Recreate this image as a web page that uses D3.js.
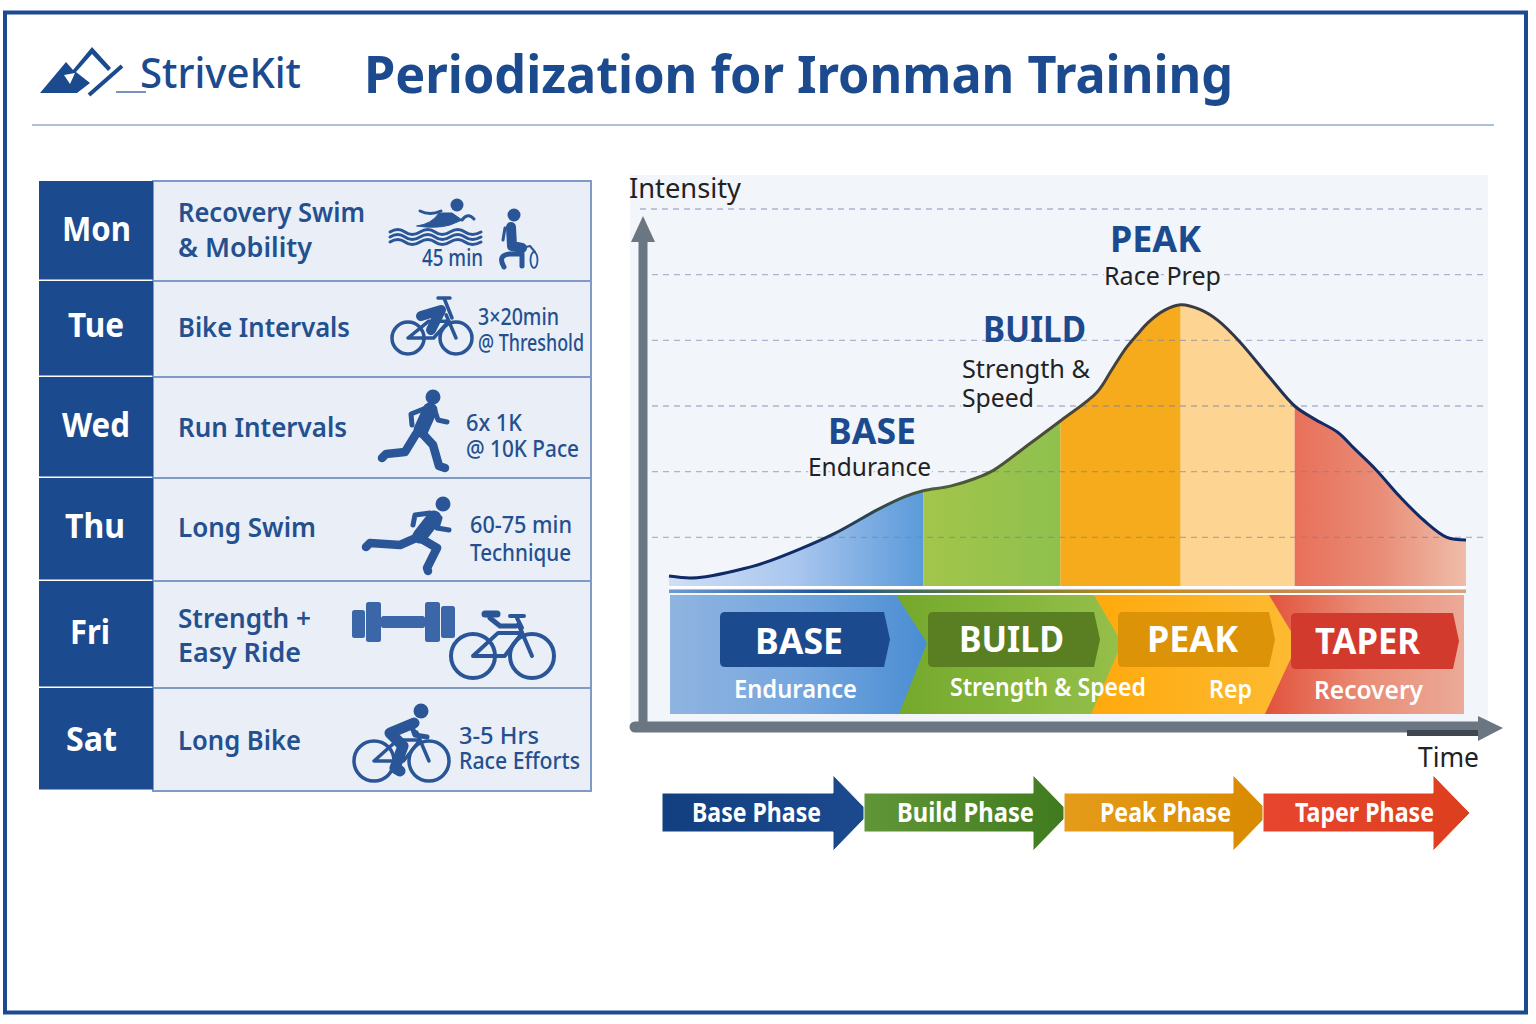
<!DOCTYPE html>
<html>
<head>
<meta charset="utf-8">
<title>Periodization for Ironman Training</title>
<script src="https://cdn.jsdelivr.net/npm/d3@7"></script>
<style>
  html, body { margin: 0; padding: 0; background: #fff; }
  svg { display: block; }
  text { font-family: "Noto Sans", sans-serif; }
</style>
</head>
<body>
<svg id="chart" width="1536" height="1024"></svg>
<script>
// weekly plan
const days = ["Mon", "Tue", "Wed", "Thu", "Fri", "Sat"];
const workouts = [
  ["Recovery Swim", "& Mobility"],
  ["Bike Intervals"],
  ["Run Intervals"],
  ["Long Swim"],
  ["Strength +", "Easy Ride"],
  ["Long Bike"]
];
const details = [
  ["45 min"],
  ["3\u00d720min", "@ Threshold"],
  ["6x 1K", "@ 10K Pace"],
  ["60-75 min", "Technique"],
  [],
  ["3-5 Hrs", "Race Efforts"]
];

// intensity curve, time as % of the season
const curveTime = [0, 2.6, 4.6, 8.3, 11.9, 16.4, 20.8, 26.3, 29.6, 31.9, 35.3, 38.5, 40.7, 45.3, 49.3, 53.7, 55.5, 57.2, 58.7, 60.1, 62.2, 64.2, 66.6, 68.9, 71.6, 75.4, 78.5, 81, 83.9, 86, 88.7, 91.7, 94.7, 97.6, 100];
const curveIntensity = [0.41, 0.38, 0.40, 0.49, 0.61, 0.82, 1.06, 1.43, 1.62, 1.71, 1.78, 1.90, 2.02, 2.43, 2.79, 3.21, 3.54, 3.86, 4.08, 4.27, 4.46, 4.54, 4.47, 4.30, 3.98, 3.43, 3.0, 2.8, 2.6, 2.35, 2.03, 1.62, 1.26, 1.0, 0.96];
const intensityLevels = [1, 2, 3, 4, 5, 6];
const bandEdges = [0, 31.9, 49.1, 64.2, 78.5, 100];
const phaseNames = ["Base Phase", "Build Phase", "Peak Phase", "Taper Phase"];
const pillNames = ["BASE", "BUILD", "PEAK", "TAPER"];
const pillSubs = ["Endurance", "Strength & Speed", "Rep", "Recovery"];

const navy = "#1c4a8e";
const rowText = "#24508f";

const svg = d3.select("#chart");
const defs = svg.append("defs");

const x = d3.scaleLinear().domain([0, 100]).range([669, 1466]);
const y = d3.scaleLinear().domain([0, 6]).range([603, 209]);

function gradient(id, stops, x1, x2) {
  const g = defs.append("linearGradient").attr("id", id);
  if (x1 !== undefined) {
    g.attr("gradientUnits", "userSpaceOnUse").attr("x1", x1).attr("x2", x2).attr("y1", 0).attr("y2", 0);
  }
  stops.forEach((c, i) => {
    g.append("stop").attr("offset", i / (stops.length - 1)).attr("stop-color", c);
  });
}

// text squeezed to the width it has in the picture
function label(parent, str, left, base, size, width, fill, weight, halo) {
  const t = parent.append("text")
    .attr("x", left).attr("y", base)
    .attr("font-size", size).attr("font-weight", weight || 400)
    .attr("fill", fill)
    .attr("textLength", width).attr("lengthAdjust", "spacingAndGlyphs")
    .text(str);
  if (halo) {
    t.attr("stroke", halo).attr("stroke-width", 5).attr("paint-order", "stroke");
  }
  return t;
}

// frame + header
svg.append("rect").attr("width", 1536).attr("height", 1024).attr("fill", "#fff");
svg.append("rect").attr("x", 5).attr("y", 12.5).attr("width", 1521).attr("height", 1000)
  .attr("fill", "none").attr("stroke", navy).attr("stroke-width", 4);
svg.append("line").attr("x1", 32).attr("x2", 1494).attr("y1", 125).attr("y2", 125)
  .attr("stroke", "#93abcd").attr("stroke-width", 1.5);

// logo
const logo = svg.append("g");
logo.append("path").attr("d", "M40 93 L66 62 L73 70 L92 47 L111 68 L108 71 L92 54 L76 72 L90 83 L77 93 Z").attr("fill", navy);
logo.append("path").attr("d", "M89 95 L122 66").attr("stroke", navy).attr("stroke-width", 4);
logo.append("path").attr("d", "M64 75 L75 73 L70 84 Z").attr("fill", "#fff");
logo.append("line").attr("x1", 116).attr("x2", 146).attr("y1", 92).attr("y2", 92).attr("stroke", navy).attr("stroke-width", 1.2);
label(svg, "StriveKit", 140, 88, 41, 161, navy, 500);
label(svg, "Periodization for Ironman Training", 364, 93, 52, 869, navy, 700);

// --- table ---
const rowEdges = [181, 281, 377, 478, 581, 688, 791];
const dayX = [[62, 69], [68, 56], [62, 68], [65, 60], [70, 40], [66, 51]];
const dayBase = [241, 337, 437, 538, 644, 751];
const workoutPos = [
  [[222, 187], [257, 134]],
  [[337, 172]],
  [[437, 169]],
  [[537, 138]],
  [[628, 133], [662, 123]],
  [[750, 123]]
];
const detailPos = [
  [[422, 266, 61]],
  [[478, 325, 81], [478, 351, 106]],
  [[466, 431, 56], [466, 457, 113]],
  [[470, 533, 102], [470, 561, 101]],
  [],
  [[459, 744, 80], [459, 769, 121]]
];
const table = svg.append("g");
days.forEach((day, i) => {
  const top = rowEdges[i], h = rowEdges[i + 1] - top;
  table.append("rect").attr("x", 153).attr("y", top).attr("width", 438).attr("height", h)
    .attr("fill", "#e9eef7").attr("stroke", "#7f9ac7").attr("stroke-width", 2);
  table.append("rect").attr("x", 39).attr("y", top).attr("width", 114).attr("height", h - 1.5)
    .attr("fill", navy);
  label(table, day, dayX[i][0], dayBase[i], 34, dayX[i][1], "#fff", 700);
  workouts[i].forEach((line, j) => {
    label(table, line, 178, workoutPos[i][j][0], 27, workoutPos[i][j][1], rowText, 600);
  });
  details[i].forEach((line, j) => {
    const p = detailPos[i][j];
    label(table, line, p[0], p[1], 23, p[2], rowText, 500);
  });
});

// --- icons ---
const icons = svg.append("g").attr("fill", "none").attr("stroke", "#2a5597")
  .attr("stroke-linecap", "round").attr("stroke-linejoin", "round");

function limb(d, w) {
  icons.append("path").attr("d", d).attr("stroke-width", w);
}
function head(cx, cy, r) {
  icons.append("circle").attr("cx", cx).attr("cy", cy).attr("r", r).attr("fill", "#2a5597").attr("stroke", "none");
}
function bike(lx, rx, cy, r, w) {
  icons.append("circle").attr("cx", lx).attr("cy", cy).attr("r", r).attr("stroke-width", w);
  icons.append("circle").attr("cx", rx).attr("cy", cy).attr("r", r).attr("stroke-width", w);
  const mid = (lx + rx) / 2;
  const top = cy - r * 1.05;
  limb(`M${lx} ${cy} L${mid - r * 0.2} ${top} L${rx - r * 0.45} ${top} L${mid + r * 0.1} ${cy} Z`, w);
  limb(`M${rx} ${cy} L${rx - r * 0.62} ${top - r * 0.4}`, w);
}

// Mon swimmer and mobility figure
head(457, 205, 6.5);
icons.append("path").attr("d", "M417 226 Q432 224 439 213 L452 213 L462 220 L450 225 Q436 229 417 226 Z")
  .attr("fill", "#2a5597").attr("stroke-width", 1);
limb("M420 211 Q430 216 441 211", 3);
limb("M462 220 Q468 212 474 219", 3);
["232", "237", "242"].forEach(v => {
  limb(`M390 ${v} q8 -5 15 0 t15 0 t15 0 t15 0 t15 0 t16 0`, 3);
});
head(514, 215, 6.5);
limb("M511 227 L512 246 L522 248", 10);
limb("M505 228 L503 240", 3);
limb("M504 267 Q497 255 510 254 L522 254 L522 266", 5);
icons.append("ellipse").attr("cx", 534).attr("cy", 260).attr("rx", 3.5).attr("ry", 8).attr("stroke-width", 1.8);
limb("M522 248 L530 246 L535 252", 2);

// Tue bike
bike(408, 456, 338, 16, 3.5);
limb("M421 316 L441 310 L431 330", 10);
limb("M438 298 L450 298 M444 298 L452 318", 3.5);

// Wed runner
head(433, 397, 7.5);
limb("M430 410 L421 430", 15);
limb("M421 432 L433 445 L439 466 L445 468", 8.5);
limb("M416 434 L405 452 L386 454 L382 458", 8.5);
limb("M426 408 L411 414 L412 425", 5);
limb("M434 408 L438 420 L447 422", 5);

// Thu runner
head(443, 504, 7.5);
limb("M434 518 L420 536", 15);
limb("M420 538 L437 548 L427 568 L428 571", 8.5);
limb("M416 538 L400 545 L370 543 L366 547", 8.5);
limb("M430 513 L415 515 L413 525", 5);
limb("M440 518 L437 528 L449 530", 5);

// Fri dumbbell + bike
const bell = svg.append("g").attr("fill", "#3b66a8");
[[352, 610, 13, 28], [366, 602, 15, 40], [381, 616, 44, 12], [425, 602, 15, 40], [441, 606, 14, 32]].forEach(r => {
  bell.append("rect").attr("x", r[0]).attr("y", r[1]).attr("width", r[2]).attr("height", r[3]).attr("rx", 2.5);
});
bike(473, 532, 656, 22, 4);
limb("M485 614 L497 614", 7);
limb("M490 618 L500 626 L516 626", 5);
limb("M510 616 L524 616 M517 618 L522 628", 4);

// Sat bike + rider
bike(374, 429, 761, 20, 3.5);
head(421, 711, 7.5);
limb("M414 723 L390 733 L403 746 L395 768 L400 771", 11);
limb("M412 727 L415 735 L427 737", 5);

// --- intensity chart ---
const chart = svg.append("g");
chart.append("rect").attr("x", 630).attr("y", 175).attr("width", 858).attr("height", 555).attr("fill", "#f2f5fa");

const baseline = 0.24;
const area = d3.area()
  .x((d, i) => x(curveTime[i]))
  .y0(y(baseline))
  .y1(d => y(d))
  .curve(d3.curveCatmullRom.alpha(0.5));
const line = d3.line()
  .x((d, i) => x(curveTime[i]))
  .y(d => y(d))
  .curve(d3.curveCatmullRom.alpha(0.5));

const bandFills = ["url(#bandBase)", "url(#bandBuild)", "#f6ab1c", "#fdd491", "url(#bandTaper)"];
gradient("bandBase", ["#cfdff5", "#a9c6ee", "#5b9ada"], x(bandEdges[0]), x(bandEdges[1]));
gradient("bandBuild", ["#a3c54a", "#8fc04e"], x(bandEdges[1]), x(bandEdges[2]));
gradient("bandTaper", ["#e8705a", "#e98d77", "#efbda9"], x(bandEdges[4]), x(bandEdges[5]));
gradient("curveStroke", ["#0f2a66", "#0f2a66", "#4a5f3c", "#4a4638", "#3a3a42", "#0f2a66", "#0f2a66"], x(0), x(100));

bandEdges.slice(1).forEach((edge, i) => {
  const left = bandEdges[i];
  defs.append("clipPath").attr("id", "clip" + i).append("rect")
    .attr("x", x(left)).attr("width", x(edge) - x(left))
    .attr("y", 150).attr("height", 500);
  chart.append("path").datum(curveIntensity)
    .attr("d", area).attr("fill", bandFills[i]).attr("clip-path", `url(#clip${i})`);
});

// grid
chart.append("g").selectAll("line").data(intensityLevels).join("line")
  .attr("x1", d => d === 6 ? 640 : 652).attr("x2", 1486)
  .attr("y1", d => y(d)).attr("y2", d => y(d))
  .attr("stroke", "#6f7fa8").attr("stroke-opacity", 0.55)
  .attr("stroke-width", 1.3).attr("stroke-dasharray", "6 5");

chart.append("path").datum(curveIntensity).attr("d", line)
  .attr("fill", "none").attr("stroke", "url(#curveStroke)").attr("stroke-width", 3);

// rails between the curve and the phase band
gradient("railFill", ["#6e9bd0", "#1f5597", "#5f7f30", "#c98a20", "#c98a50", "#d9a27a"]);
chart.append("rect").attr("x", 669).attr("y", 586).attr("width", 797).attr("height", 2.5).attr("fill", "#fff");
chart.append("rect").attr("x", 669).attr("y", 589.5).attr("width", 797).attr("height", 3.5).attr("fill", "url(#railFill)");

// phase band, left to right so each chevron overlaps the next colour
gradient("stripBase", ["#8fb4e0", "#76a7de", "#4a8dd3"], 670, 927);
gradient("stripBuild", ["#74a92c", "#95c04a"], 899, 1122);
gradient("stripPeak", ["#ffa90c", "#fdbb33"], 1091, 1298);
gradient("stripTaper", ["#e2523c", "#e98d77", "#ebaa98"], 1265, 1464);
const stripEdges = [
  [670, 670, 670],
  [896, 927, 899],
  [1094, 1122, 1091],
  [1269, 1298, 1265],
  [1464, 1464, 1464]
];
const stripFills = ["url(#stripBase)", "url(#stripBuild)", "url(#stripPeak)", "url(#stripTaper)"];
for (let i = 3; i >= 0; i--) {
  const r = stripEdges[i + 1];
  const l = stripEdges[0];
  chart.append("path")
    .attr("d", `M${l[0]} 595 L${r[0]} 595 L${r[1]} 643 L${r[2]} 714 L${l[0]} 714 Z`)
    .attr("fill", stripFills[i]);
}
chart.append("line").attr("x1", 716).attr("x2", 1464).attr("y1", 594).attr("y2", 594).attr("stroke", "#fff").attr("stroke-width", 1.5);

// pills
const pillBox = [[720, 170, 612, 55], [928, 172, 612, 55], [1118, 157, 612, 55], [1291, 168, 613, 56]];
const pillFill = ["#1c4a8e", "#5a7f22", "#dc9308", "#d23a2e"];
const pillText = [[755, 654, 88], [959, 652, 105], [1147, 652, 91], [1315, 654, 105]];
const subText = [[734, 698, 123], [950, 696, 196], [1209, 698, 43], [1314, 699, 109]];
pillNames.forEach((name, i) => {
  const b = pillBox[i];
  const right = b[0] + b[1];
  chart.append("path")
    .attr("d", `M${b[0] + 5} ${b[2]} L${right - 6} ${b[2]} L${right} ${b[2] + b[3] / 2} L${right - 6} ${b[2] + b[3]} L${b[0] + 5} ${b[2] + b[3]} Q${b[0]} ${b[2] + b[3]} ${b[0]} ${b[2] + b[3] - 5} L${b[0]} ${b[2] + 5} Q${b[0]} ${b[2]} ${b[0] + 5} ${b[2]} Z`)
    .attr("fill", pillFill[i]);
  label(chart, name, pillText[i][0], pillText[i][1], 36, pillText[i][2], "#fff", 700);
  label(chart, pillSubs[i], subText[i][0], subText[i][1], 26, subText[i][2], "#fff", 600);
});

// axes
const axisGrey = "#6b7683";
chart.append("line").attr("x1", 643).attr("x2", 643).attr("y1", 727).attr("y2", 240)
  .attr("stroke", axisGrey).attr("stroke-width", 9);
chart.append("path").attr("d", "M643 216 L655 242 L631 242 Z").attr("fill", axisGrey);
chart.append("line").attr("x1", 635).attr("x2", 1480).attr("y1", 727).attr("y2", 727)
  .attr("stroke", axisGrey).attr("stroke-width", 11).attr("stroke-linecap", "round");
chart.append("rect").attr("x", 1407).attr("y", 730).attr("width", 72).attr("height", 6).attr("fill", "#3f4650");
chart.append("path").attr("d", "M1503 728 L1478 716 L1478 741 Z").attr("fill", axisGrey);

label(chart, "Intensity", 629, 198, 27, 112, "#222");
label(chart, "Time", 1418, 767, 27, 61, "#222");

// curve labels
const halo = "#f2f5fa";
label(chart, "BASE", 828, 444, 36, 88, navy, 700);
label(chart, "Endurance", 808, 476, 26, 123, "#222", 400, halo);
label(chart, "BUILD", 983, 342, 36, 103, navy, 700);
label(chart, "Strength &", 962, 378, 26, 128, "#222", 400, halo);
label(chart, "Speed", 962, 407, 26, 72, "#222", 400, halo);
label(chart, "PEAK", 1110, 252, 36, 91, navy, 700);
label(chart, "Race Prep", 1104, 285, 26, 117, "#222", 400, halo);

// phase arrows along the bottom, last first so the tips sit on top of the next tail
gradient("arrowBase", ["#123f80", "#1c4a8e"]);
gradient("arrowBuild", ["#619637", "#3f7a1e"]);
gradient("arrowPeak", ["#e59c1a", "#d88a00"]);
gradient("arrowTaper", ["#e8452e", "#dc3f1e"]);
const arrowFill = ["url(#arrowBase)", "url(#arrowBuild)", "url(#arrowPeak)", "url(#arrowTaper)"];
const arrowX = [[662, 833, 870], [864, 1033, 1070], [1064, 1233, 1270], [1263, 1433, 1470]];
const arrowText = [[692, 129], [897, 137], [1100, 131], [1295, 139]];
const arrows = svg.append("g");
phaseNames.forEach((name, i) => {
  const a = arrowX[i];
  arrows.append("path")
    .attr("d", `M${a[0]} 793 L${a[1]} 793 L${a[1]} 775 L${a[2]} 813 L${a[1]} 851 L${a[1]} 832 L${a[0]} 832 Z`)
    .attr("fill", arrowFill[i]).attr("stroke", "#fff").attr("stroke-width", 1);
  label(arrows, name, arrowText[i][0], 822, 26, arrowText[i][1], "#fff", 700);
});
</script>
</body>
</html>
